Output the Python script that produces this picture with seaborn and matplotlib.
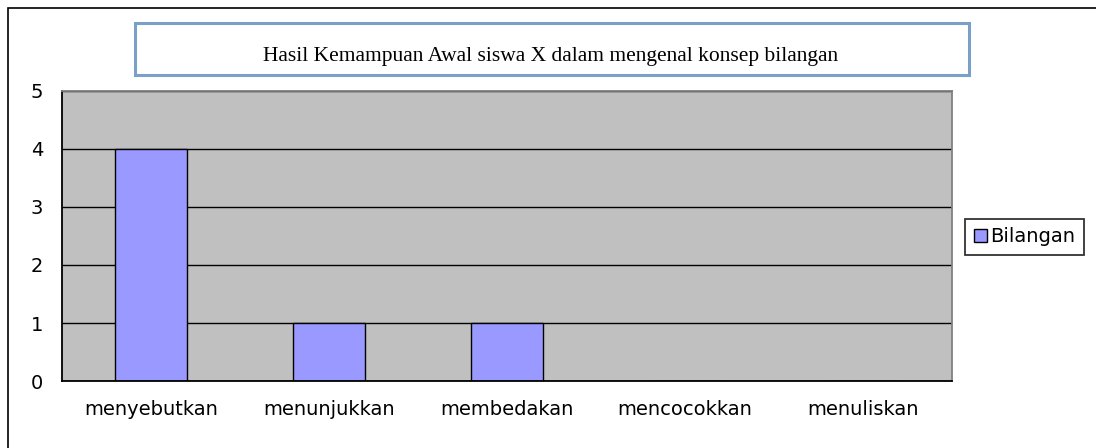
import matplotlib
matplotlib.use("Agg")
import matplotlib.pyplot as plt
import matplotlib.patches as mpatches
import seaborn as sns
import pandas as pd

categories = ["menyebutkan", "menunjukkan", "membedakan", "mencocokkan", "menuliskan"]
values = [4, 1, 1, 0, 0]
series_name = "Bilangan"
title = "Hasil Kemampuan Awal siswa X dalam mengenal konsep bilangan"
yticks = [0, 1, 2, 3, 4, 5]

BAR = "#9999FF"
PLOT_BG = "#C0C0C0"

sns.set_theme(style="white")
plt.rcParams["font.family"] = ["DejaVu Sans"]
plt.rcParams["text.color"] = "black"
plt.rcParams["xtick.color"] = "black"
plt.rcParams["ytick.color"] = "black"

df = pd.DataFrame({"kategori": categories, "nilai": values, "seri": series_name})

W, H = 1096, 448
fig = plt.figure(figsize=(W / 100, H / 100), dpi=100)
fig.patch.set_facecolor("white")

# outer chart border (runs off right and bottom edges)
fig.patches.append(mpatches.Rectangle((8 / W, -0.1), 1.2, 1.1 - 8 / H,
                                      transform=fig.transFigure, fill=False,
                                      edgecolor="black", lw=1.2, clip_on=False))

ax = fig.add_axes([62 / W, 1 - 381 / H, (952 - 62) / W, (381 - 91) / H])
ax.set_facecolor(PLOT_BG)
sns.barplot(data=df, x="kategori", y="nilai", hue="seri", palette=[BAR], saturation=1,
            width=0.4, edgecolor="black", linewidth=1.0, ax=ax, zorder=3)

ax.set_ylim(0, 5)
ax.set_xlim(-0.5, len(categories) - 0.5)
ax.set_yticks(yticks)
ax.set_yticklabels([str(t) for t in yticks], fontsize=14)
ax.yaxis.grid(True, color="black", lw=1.0, zorder=0)
ax.set_axisbelow(True)
ax.set_xlabel("")
ax.set_ylabel("")
ax.tick_params(axis="x", which="major", length=0, labelsize=14, pad=14, labelcolor="black")
ax.set_xticks([i + 0.5 for i in range(len(categories) - 1)], minor=True)
ax.tick_params(axis="x", which="minor", direction="in", length=7, width=1.2, color="black")
ax.tick_params(axis="y", direction="in", length=7, width=1.2, color="black", pad=18,
               labelcolor="black")
for lab in ax.get_yticklabels():
    lab.set_horizontalalignment("center")

ax.spines["left"].set_color("black")
ax.spines["bottom"].set_color("black")
ax.spines["top"].set_color("#808080")
ax.spines["right"].set_color("#808080")
for s in ax.spines.values():
    s.set_linewidth(1.3)
    s.set_zorder(4)

# legend on the right
ax.legend_.remove()
handle = mpatches.Patch(facecolor=BAR, edgecolor="black", lw=1.0, label=series_name)
leg = fig.legend(handles=[handle], loc="center left",
                 bbox_to_anchor=(965 / W, 1 - 237 / H), frameon=True, fancybox=False,
                 fontsize=14, handlelength=0.7, handleheight=0.7, handletextpad=0.15,
                 borderpad=0.45, borderaxespad=0, labelcolor="black")
leg.get_frame().set_edgecolor("black")
leg.get_frame().set_linewidth(1.3)

# title box
fig.patches.append(mpatches.Rectangle((135 / W, 1 - 75 / H), (969 - 135) / W, 52 / H,
                                      transform=fig.transFigure, facecolor="white",
                                      edgecolor="#7BA0C8", lw=2.2))
fig.text(551 / W, 1 - 61 / H, title, ha="center", va="baseline", fontsize=15.5,
         family=["Liberation Serif", "DejaVu Serif"], color="black")

fig.savefig("out.png", dpi=100)
